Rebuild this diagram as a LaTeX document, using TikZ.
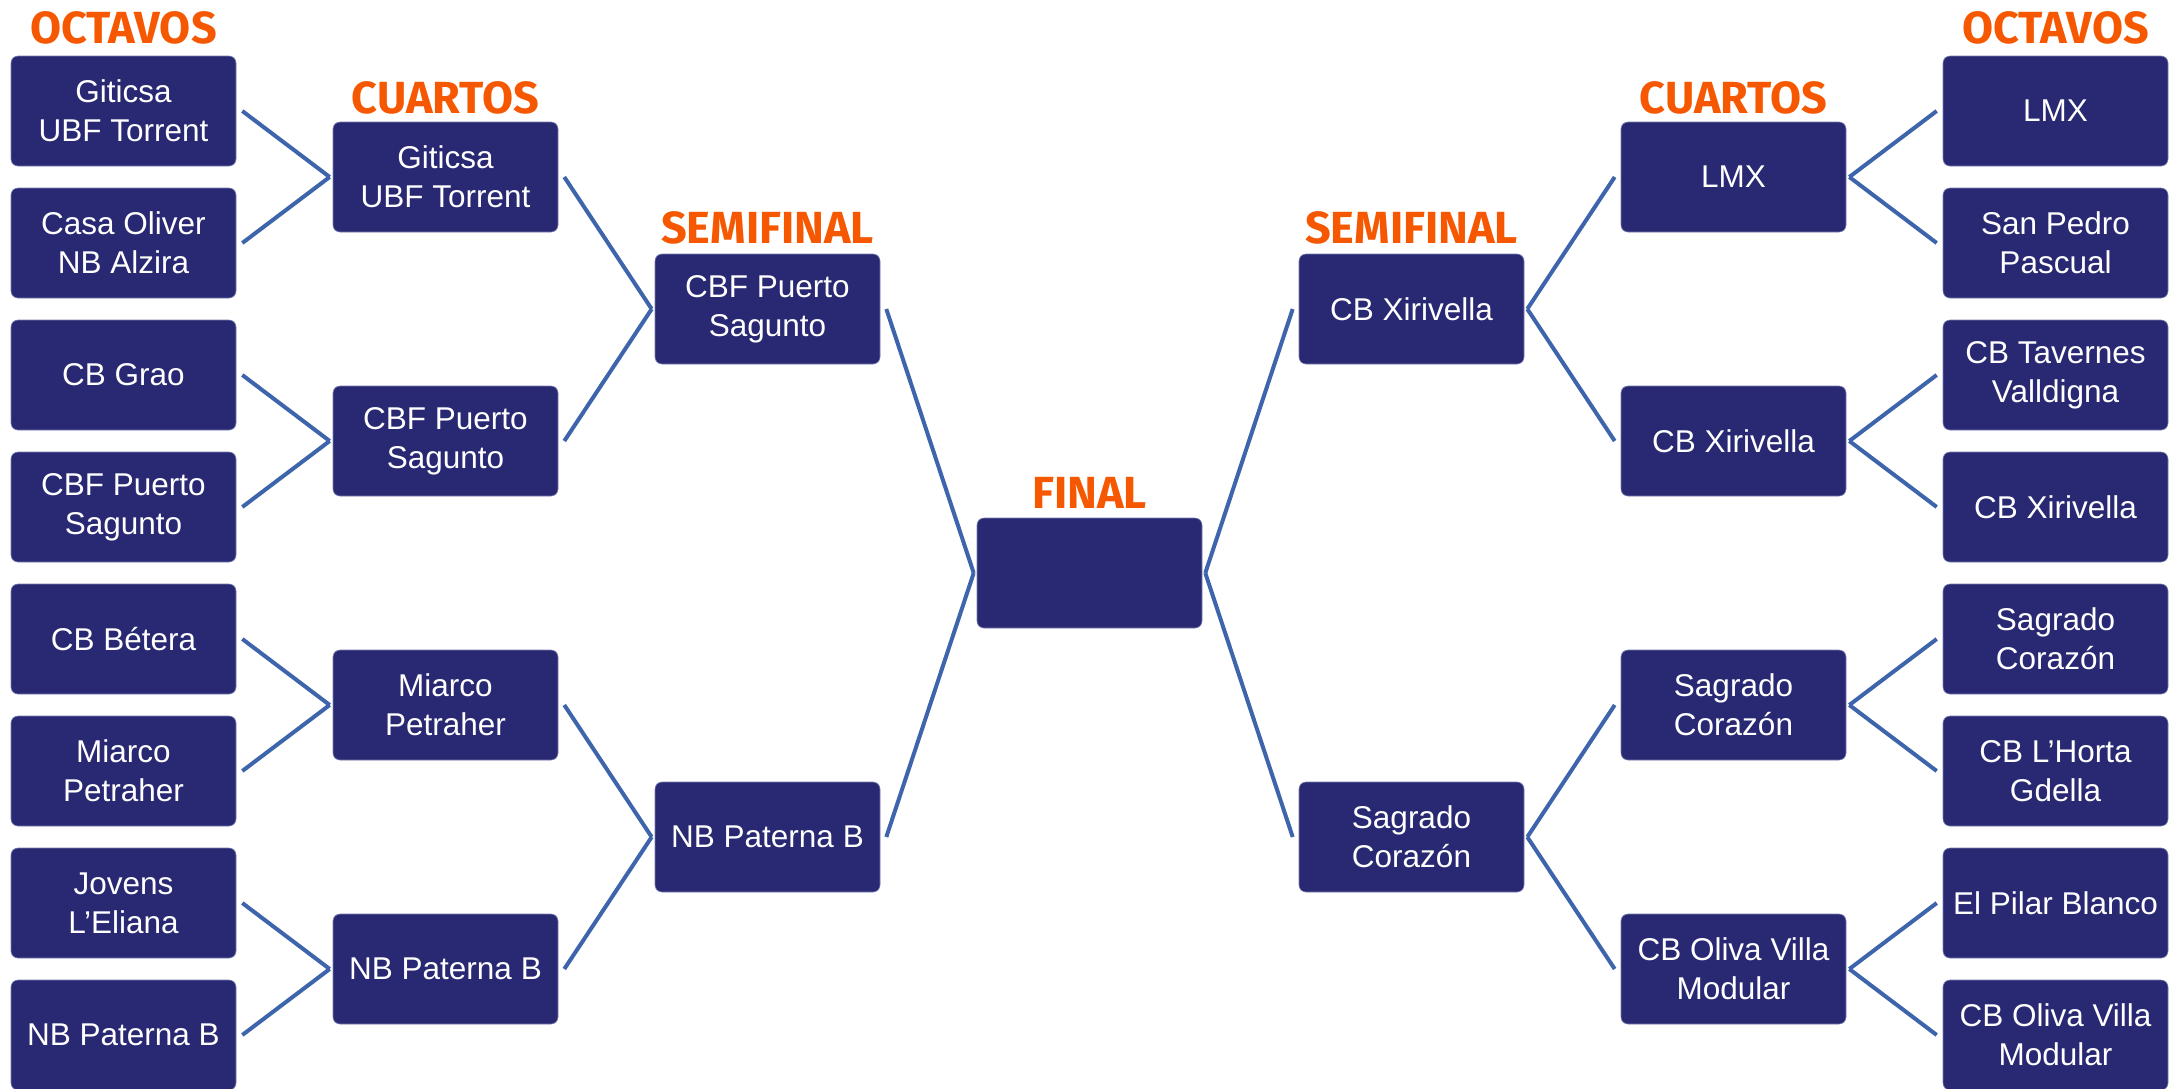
\documentclass[tikz,border=0pt]{standalone}
\usepackage{fontspec}
\setmainfont{Liberation Sans}
\newfontfamily\titlefont{Fira Sans}
\definecolor{navy}{RGB}{41,40,115}
\definecolor{navyedge}{RGB}{120,125,175}
\definecolor{linkblue}{RGB}{62,101,172}
\definecolor{titleorange}{RGB}{245,88,0}
\tikzset{
  teambox/.style={rectangle, rounded corners=7pt, fill=navy, draw=navyedge, line width=0.6pt,
    minimum width=225pt, minimum height=110pt, inner sep=0pt, text=white, align=center,
    font=\fontsize{31.5}{39}\selectfont},
  roundtitle/.style={anchor=base, inner sep=0pt, text=titleorange,
    font=\titlefont\bfseries\fontsize{45}{50}\selectfont},
  link/.style={draw=linkblue, line width=4pt},
}
\begin{document}
\begin{tikzpicture}[x=1pt,y=-1pt]
\useasboundingbox (0,0) rectangle (2177,1088);
% column centres
\def\xa{123.5}\def\xb{445.5}\def\xc{767.5}\def\xd{1089.5}
\def\xe{1411.5}\def\xf{1733.5}\def\xg{2055.5}
% titles
\node[roundtitle] (tol) at (\xa,43) {OCTAVOS};
\node[roundtitle] (tor) at (\xg,43) {OCTAVOS};
\node[roundtitle] (tcl) at (\xb,113) {CUARTOS};
\node[roundtitle] (tcr) at (\xf,113) {CUARTOS};
\node[roundtitle] (tsl) at (\xc,243) {SEMIFINAL};
\node[roundtitle] (tsr) at (\xe,243) {SEMIFINAL};
\node[roundtitle] (tf) at (\xd,508) {FINAL};
% left octavos
\node[teambox] (lo1) at (\xa,111) {Giticsa\\UBF Torrent};
\node[teambox] (lo2) at (\xa,243) {Casa Oliver\\NB Alzira};
\node[teambox] (lo3) at (\xa,375) {CB Grao};
\node[teambox] (lo4) at (\xa,507) {CBF Puerto\\Sagunto};
\node[teambox] (lo5) at (\xa,639) {CB Bétera};
\node[teambox] (lo6) at (\xa,771) {Miarco\\Petraher};
\node[teambox] (lo7) at (\xa,903) {Jovens\\L’Eliana};
\node[teambox] (lo8) at (\xa,1035) {NB Paterna B};
% left cuartos
\node[teambox] (lc1) at (\xb,177) {Giticsa\\UBF Torrent};
\node[teambox] (lc2) at (\xb,441) {CBF Puerto\\Sagunto};
\node[teambox] (lc3) at (\xb,705) {Miarco\\Petraher};
\node[teambox] (lc4) at (\xb,969) {NB Paterna B};
% left semis
\node[teambox] (ls1) at (\xc,309) {CBF Puerto\\Sagunto};
\node[teambox] (ls2) at (\xc,837) {NB Paterna B};
% final
\node[teambox] (fin) at (\xd,573) {};
% right semis
\node[teambox] (rs1) at (\xe,309) {CB Xirivella};
\node[teambox] (rs2) at (\xe,837) {Sagrado\\Corazón};
% right cuartos
\node[teambox] (rc1) at (\xf,177) {LMX};
\node[teambox] (rc2) at (\xf,441) {CB Xirivella};
\node[teambox] (rc3) at (\xf,705) {Sagrado\\Corazón};
\node[teambox] (rc4) at (\xf,969) {CB Oliva Villa\\Modular};
% right octavos
\node[teambox] (ro1) at (\xg,111) {LMX};
\node[teambox] (ro2) at (\xg,243) {San Pedro\\Pascual};
\node[teambox] (ro3) at (\xg,375) {CB Tavernes\\Valldigna};
\node[teambox] (ro4) at (\xg,507) {CB Xirivella};
\node[teambox] (ro5) at (\xg,639) {Sagrado\\Corazón};
\node[teambox] (ro6) at (\xg,771) {CB L’Horta\\Gdella};
\node[teambox] (ro7) at (\xg,903) {El Pilar Blanco};
\node[teambox] (ro8) at (\xg,1035) {CB Oliva Villa\\Modular};
% left connectors
\foreach \s/\t in {lo1/lc1,lo2/lc1,lo3/lc2,lo4/lc2,lo5/lc3,lo6/lc3,lo7/lc4,lo8/lc4,
                   lc1/ls1,lc2/ls1,lc3/ls2,lc4/ls2,ls1/fin,ls2/fin}
  \draw[link] ([xshift=6pt]\s.east) -- ([xshift=-3pt]\t.west);
% right connectors
\foreach \s/\t in {ro1/rc1,ro2/rc1,ro3/rc2,ro4/rc2,ro5/rc3,ro6/rc3,ro7/rc4,ro8/rc4,
                   rc1/rs1,rc2/rs1,rc3/rs2,rc4/rs2,rs1/fin,rs2/fin}
  \draw[link] ([xshift=-6pt]\s.west) -- ([xshift=3pt]\t.east);
\end{tikzpicture}
\end{document}
